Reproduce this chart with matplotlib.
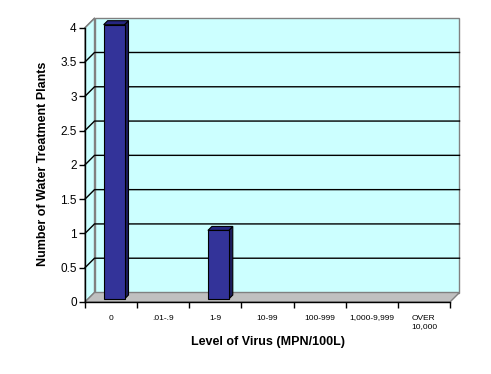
import numpy as np
import matplotlib
matplotlib.use('Agg')
import matplotlib.pyplot as plt
from matplotlib.patches import Polygon

categories = ['0', '.01-.9', '1-9', '10-99', '100-999', '1,000-9,999', 'OVER\n10,000']
plants = [4, 0, 1, 0, 0, 0, 0]
yticks = [0, 0.5, 1, 1.5, 2, 2.5, 3, 3.5, 4]
ytick_labels = ['0', '0.5', '1', '1.5', '2', '2.5', '3', '3.5', '4']

plt.rcParams['font.family'] = ['Liberation Sans', 'DejaVu Sans']

W, H = 491, 374
fig = plt.figure(figsize=(W / 100, H / 100), dpi=100)
fig.patch.set_facecolor('white')

# front plane of the 3d box, in pixels
left, right, bottom, top = 85, 450, 302, 27.7
ax = fig.add_axes([left / W, (H - bottom) / H, (right - left) / W, (bottom - top) / H])
n = len(categories)
ymax = 4
ax.set_xlim(0, n)
ax.set_ylim(0, ymax)
ax.patch.set_visible(False)

# pixel -> data sizes
px_x = n / (right - left)
px_y = ymax / (bottom - top)
depth = 9.5
dx, dy = depth * px_x, depth * px_y

wall = '#ccffff'
edge = '#808080'

# back wall, left wall, floor
back = Polygon([(dx, dy), (n + dx, dy), (n + dx, ymax + dy), (dx, ymax + dy)],
               closed=True, facecolor=wall, edgecolor=edge, lw=1, zorder=0, clip_on=False)
side = Polygon([(0, 0), (dx, dy), (dx, ymax + dy), (0, ymax)],
               closed=True, facecolor=wall, edgecolor=edge, lw=1, zorder=0, clip_on=False)
floor = Polygon([(0, 0), (n, 0), (n + dx, dy), (dx, dy)],
                closed=True, facecolor='#c0c0c0', edgecolor=edge, lw=1, zorder=0.5, clip_on=False)
for p in (back, side, floor):
    ax.add_patch(p)

# gridlines on side and back walls
for y in yticks[1:-1]:
    ax.plot([0, dx, n + dx], [y, y + dy, y + dy], color='black', lw=1, zorder=1, clip_on=False)
ax.plot([0, dx], [ymax, ymax + dy], color=edge, lw=1, zorder=1, clip_on=False)

# bars, sitting a bit behind the front plane
x = np.arange(n) + 0.5
width = 0.4
off_x, off_y = 3 * px_x, 3 * px_y
bd_x, bd_y = 4 * px_x, 4 * px_y
face = '#333399'
for xi, v in zip(x, plants):
    if v == 0:
        continue
    x0 = xi - width / 2 + off_x
    x1 = xi + width / 2 + off_x
    y0, y1 = off_y, v + off_y
    ax.add_patch(Polygon([(x1, y0), (x1 + bd_x, y0 + bd_y), (x1 + bd_x, y1 + bd_y), (x1, y1)],
                         closed=True, facecolor='#1c1c5c', edgecolor='black', lw=0.8, zorder=3, clip_on=False))
    ax.add_patch(Polygon([(x0, y1), (x0 + bd_x, y1 + bd_y), (x1 + bd_x, y1 + bd_y), (x1, y1)],
                         closed=True, facecolor='#262680', edgecolor='black', lw=0.8, zorder=3, clip_on=False))
bars = ax.bar(x + off_x, plants, width=width, bottom=off_y, color=face, edgecolor='black', lw=0.8, zorder=4)
for b, v in zip(bars, plants):
    b.set_clip_on(False)
    if v == 0:
        b.set_visible(False)

# axes
for s in ('top', 'right'):
    ax.spines[s].set_visible(False)
for s in ('left', 'bottom'):
    ax.spines[s].set_color('black')
    ax.spines[s].set_linewidth(1)
    ax.spines[s].set_zorder(5)

ax.set_yticks(yticks)
ax.set_yticklabels(ytick_labels, fontsize=8.5)
ax.tick_params(axis='y', length=4, width=1, pad=2)
ax.set_xticks(np.arange(n + 1))
ax.set_xticklabels([])
ax.tick_params(axis='x', which='major', length=4, width=1, direction='out')
ax.set_xticks(x, minor=True)
ax.set_xticklabels(categories, minor=True, fontsize=6, linespacing=1.3)
ax.tick_params(axis='x', which='minor', length=0, pad=9, labelsize=6)
for lbl in ax.get_xticklabels(minor=True):
    lbl.set_verticalalignment('top')

fig.text(268 / W, 1 - 342 / H, 'Level of Virus (MPN/100L)', ha='center', va='center',
         fontsize=9, fontweight='bold')
fig.text(43 / W, 1 - 164 / H, 'Number of Water Treatment Plants', ha='center', va='center',
         rotation=90, fontsize=9, fontweight='bold')

fig.savefig('out.png', dpi=100)
